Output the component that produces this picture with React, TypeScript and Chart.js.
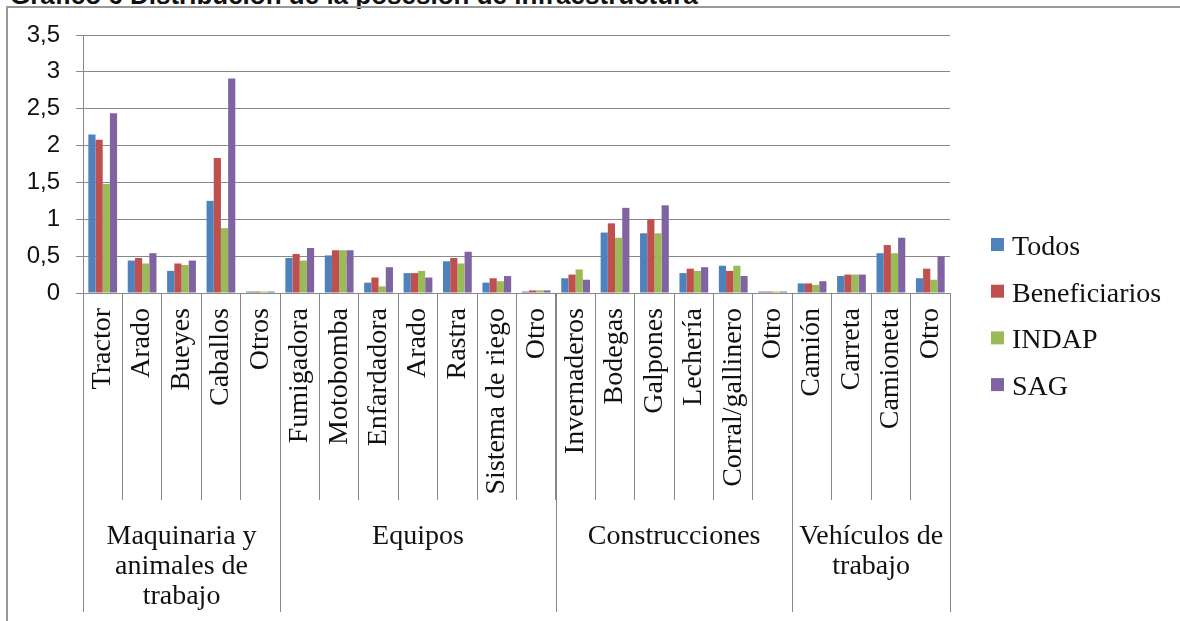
import { useEffect, useRef } from 'react';
import { Chart, registerables } from 'chart.js';

Chart.register(...registerables);

const chartTitle = 'Gráfico 6 Distribución de la posesión de infraestructura';

const categories = [
  'Tractor', 'Arado', 'Bueyes', 'Caballos', 'Otros',
  'Fumigadora', 'Motobomba', 'Enfardadora', 'Arado', 'Rastra', 'Sistema de riego', 'Otro',
  'Invernaderos', 'Bodegas', 'Galpones', 'Lechería', 'Corral/gallinero', 'Otro',
  'Camión', 'Carreta', 'Camioneta', 'Otro',
];

const groupNames = [
  ['Maquinaria y', 'animales de', 'trabajo'],
  ['Equipos'],
  ['Construcciones'],
  ['Vehículos de', 'trabajo'],
];
const groupSizes = [5, 7, 6, 4];

const seriesNames = ['Todos', 'Beneficiarios', 'INDAP', 'SAG'];
const seriesColors = ['#4F81BD', '#C0504D', '#9BBB59', '#8064A2'];

const todos = [2.15, 0.44, 0.3, 1.25, 0.02, 0.475, 0.51, 0.14, 0.27, 0.43, 0.14, 0.02, 0.2, 0.82, 0.81, 0.27, 0.37, 0.02, 0.13, 0.23, 0.54, 0.2];
const beneficiarios = [2.08, 0.475, 0.4, 1.83, 0.02, 0.53, 0.58, 0.21, 0.27, 0.475, 0.2, 0.035, 0.25, 0.945, 1.0, 0.33, 0.3, 0.02, 0.13, 0.25, 0.65, 0.33];
const indap = [1.48, 0.4, 0.38, 0.88, 0.02, 0.44, 0.58, 0.09, 0.3, 0.4, 0.16, 0.035, 0.32, 0.75, 0.81, 0.3, 0.37, 0.02, 0.11, 0.25, 0.54, 0.18];
const sag = [2.44, 0.54, 0.44, 2.91, 0.02, 0.61, 0.58, 0.35, 0.21, 0.56, 0.23, 0.035, 0.18, 1.155, 1.19, 0.35, 0.23, 0.02, 0.16, 0.25, 0.75, 0.5];

const seriesValues = [todos, beneficiarios, indap, sag];

const yTickLabels = ['0', '0,5', '1', '1,5', '2', '2,5', '3', '3,5'];

const SERIF = '"Liberation Serif", "Times New Roman", serif';
const SANS = '"Liberation Sans", Arial, sans-serif';
const GRID = '#888888';
const TEXT = '#111111';

const overlayPlugin = {
  id: 'overlay',
  afterDraw(chart: any) {
    const ctx = chart.ctx as CanvasRenderingContext2D;
    const x = chart.scales.x;
    const area = chart.chartArea;
    ctx.save();

    // group separators
    ctx.strokeStyle = GRID;
    ctx.lineWidth = 1;
    const bounds: number[] = [-0.5];
    let acc = 0;
    groupSizes.forEach((s) => {
      acc += s;
      bounds.push(acc - 0.5);
    });
    bounds.forEach((b) => {
      const px = Math.round(x.getPixelForValue(b)) + 0.5;
      ctx.beginPath();
      ctx.moveTo(px, area.bottom);
      ctx.lineTo(px, 612);
      ctx.stroke();
    });

    // group labels
    ctx.fillStyle = TEXT;
    ctx.font = `28px ${SERIF}`;
    ctx.textAlign = 'center';
    ctx.textBaseline = 'alphabetic';
    let start = 0;
    groupSizes.forEach((s, gi) => {
      const cx = x.getPixelForValue(start + (s - 1) / 2);
      groupNames[gi].forEach((line, li) => {
        ctx.fillText(line, cx, 544 + li * 30);
      });
      start += s;
    });

    // legend
    ctx.textAlign = 'left';
    chart.data.datasets.forEach((ds: any, i: number) => {
      const base = 255 + i * 46.7;
      ctx.fillStyle = ds.backgroundColor;
      ctx.fillRect(991, base - 17, 13, 13);
      ctx.fillStyle = TEXT;
      ctx.fillText(ds.label, 1012, base);
    });

    ctx.restore();
  },
};

export default function App() {
  const canvasRef = useRef<HTMLCanvasElement | null>(null);

  useEffect(() => {
    if (!canvasRef.current) return;
    const chart = new Chart(canvasRef.current, {
      type: 'bar',
      data: {
        labels: categories,
        datasets: seriesNames.map((name, i) => ({
          label: name,
          data: seriesValues[i],
          backgroundColor: seriesColors[i],
          borderWidth: 0,
          barPercentage: 1,
          categoryPercentage: 0.73,
        })),
      },
      options: {
        responsive: false,
        animation: false,
        devicePixelRatio: 1,
        layout: { padding: { top: 35, right: 230, left: 0, bottom: 0 } },
        plugins: {
          legend: { display: false },
          tooltip: { enabled: false },
          title: { display: false },
        },
        scales: {
          x: {
            type: 'category',
            offset: true,
            grid: {
              display: true,
              drawOnChartArea: false,
              drawTicks: true,
              tickLength: 207,
              color: GRID,
              offset: true,
            },
            border: { display: true, color: GRID },
            ticks: {
              autoSkip: false,
              maxRotation: 90,
              minRotation: 90,
              padding: -192,
              color: TEXT,
              font: { family: SERIF, size: 28 },
            },
            afterFit: (s: any) => {
              s.height = 328;
            },
          },
          y: {
            min: 0,
            max: 3.5,
            ticks: {
              stepSize: 0.5,
              padding: 16,
              color: TEXT,
              font: { family: SANS, size: 24 },
              callback: (_v: any, i: number) => yTickLabels[i],
            },
            grid: { color: GRID, tickLength: 7, drawTicks: true },
            border: { display: true, color: GRID },
            afterFit: (s: any) => {
              s.width = 83;
            },
          },
        },
      },
      plugins: [overlayPlugin],
    });
    return () => chart.destroy();
  }, []);

  return (
    <div style={{ position: 'fixed', left: 0, top: 0, width: 1180, height: 621, overflow: 'hidden', background: '#fff' }}>
      <div
        style={{
          position: 'absolute',
          left: 10,
          top: -18,
          font: `bold 26px ${SANS}`,
          lineHeight: '26px',
          whiteSpace: 'nowrap',
          color: '#111',
        }}
      >
        {chartTitle}
      </div>
      <div
        style={{
          position: 'absolute',
          left: 6,
          top: 6,
          width: 1200,
          height: 700,
          borderLeft: '2px solid #999',
          borderTop: '2px solid #999',
          background: 'transparent',
        }}
      />
      <canvas ref={canvasRef} width={1180} height={621} style={{ position: 'absolute', left: 0, top: 0 }} />
    </div>
  );
}
